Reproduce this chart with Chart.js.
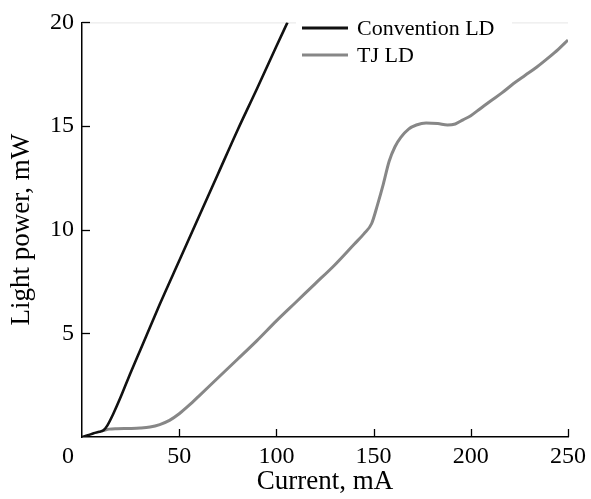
<!DOCTYPE html>
<html>
<head>
<meta charset="utf-8">
<script src="https://cdn.jsdelivr.net/npm/chart.js@4/dist/chart.umd.min.js"></script>
<style>
  html, body { margin: 0; padding: 0; background: #ffffff; }
  #wrap { width: 591px; height: 499px; }
</style>
</head>
<body>
<div id="wrap"><canvas id="c" width="591" height="499"></canvas></div>
<script>
// ---- data ----
const seriesNames = ['Convention LD', 'TJ LD'];
const currentConv = [0, 3, 6, 9, 11, 13, 16, 20, 25, 30, 40, 50, 60, 70, 80, 90, 100, 105.7];
const powerConv   = [0, 0.08, 0.18, 0.25, 0.32, 0.55, 1.1, 1.95, 3.1, 4.2, 6.4, 8.5, 10.6, 12.7, 14.8, 16.8, 18.85, 20.0];
const currentTJ = [11, 14, 18, 25, 30, 35, 40, 45, 50, 55, 60, 70, 80, 90, 100, 110, 120, 130, 140, 145, 149, 152, 155, 158, 161, 164, 168, 172, 177, 183, 188, 192, 196, 200, 205, 210, 216, 222, 228, 234, 240, 245, 250];
const powerTJ   = [0.32, 0.38, 0.4, 0.41, 0.43, 0.48, 0.6, 0.8, 1.12, 1.52, 1.96, 2.86, 3.75, 4.65, 5.6, 6.5, 7.4, 8.3, 9.3, 9.8, 10.3, 11.2, 12.2, 13.3, 14.0, 14.45, 14.85, 15.05, 15.15, 15.12, 15.05, 15.1, 15.3, 15.5, 15.85, 16.2, 16.6, 17.05, 17.45, 17.85, 18.3, 18.7, 19.15];
const xTickValues = [0, 50, 100, 150, 200, 250];
const yTickValues = [0, 5, 10, 15, 20];
const xTitle = 'Current, mA';
const yTitle = 'Light power, mW';

const FONT = "'Liberation Serif', 'Times New Roman', serif";
const colors = ['#111111', '#878787'];

function toPoints(xs, ys) { return xs.map((x, i) => ({ x: x, y: ys[i] })); }

const decor = {
  id: 'decor',
  beforeDatasetsDraw(chart) {
    const ctx = chart.ctx, a = chart.chartArea;
    ctx.save();
    ctx.strokeStyle = '#e6e6e6';
    ctx.lineWidth = 1;
    ctx.beginPath();
    ctx.moveTo(a.left, a.top + 0.5);
    ctx.lineTo(a.right, a.top + 0.5);
    ctx.stroke();
    ctx.restore();
  },
  afterDraw(chart) {
    const ctx = chart.ctx, a = chart.chartArea;
    const xs = chart.scales.x, ys = chart.scales.y;
    ctx.save();
    // inward tick marks
    ctx.strokeStyle = '#000';
    ctx.lineWidth = 1.3;
    const tl = 8;
    xTickValues.forEach(v => {
      if (v === 0) return;
      const px = Math.round(xs.getPixelForValue(v)) + 0.5;
      ctx.beginPath(); ctx.moveTo(px, a.bottom); ctx.lineTo(px, a.bottom - tl); ctx.stroke();
    });
    yTickValues.forEach(v => {
      if (v === 0) return;
      const py = Math.round(ys.getPixelForValue(v)) + 0.5;
      ctx.beginPath(); ctx.moveTo(a.left, py); ctx.lineTo(a.left + tl, py); ctx.stroke();
    });
    // origin label (offset to the lower left, as in the reference)
    ctx.fillStyle = '#000';
    ctx.font = '24px ' + FONT;
    ctx.textAlign = 'center';
    ctx.textBaseline = 'top';
    ctx.fillText('0', xs.getPixelForValue(0) - 14, a.bottom + 8);
    // legend
    ctx.fillStyle = '#ffffff';
    ctx.fillRect(296, 4, 216, 66);
    const lx0 = 302, lx1 = 348, tx = 357;
    const rows = [28, 55];
    seriesNames.forEach((name, i) => {
      ctx.strokeStyle = colors[i];
      ctx.lineWidth = 3;
      ctx.beginPath(); ctx.moveTo(lx0, rows[i]); ctx.lineTo(lx1, rows[i]); ctx.stroke();
      ctx.fillStyle = '#000';
      ctx.font = '22px ' + FONT;
      ctx.textAlign = 'left';
      ctx.textBaseline = 'middle';
      ctx.fillText(name, tx, rows[i] + 1);
    });
    ctx.restore();
  }
};

new Chart(document.getElementById('c'), {
  type: 'line',
  data: {
    datasets: [
      { label: seriesNames[0], data: toPoints(currentConv, powerConv), borderColor: colors[0], borderWidth: 2.6, pointRadius: 0, cubicInterpolationMode: 'monotone', fill: false },
      { label: seriesNames[1], data: toPoints(currentTJ, powerTJ), borderColor: colors[1], borderWidth: 3, pointRadius: 0, cubicInterpolationMode: 'monotone', fill: false }
    ]
  },
  options: {
    responsive: false,
    animation: false,
    devicePixelRatio: 1,
    layout: { padding: { top: 15, right: 19, left: 0, bottom: 0 } },
    plugins: { legend: { display: false }, tooltip: { enabled: false } },
    scales: {
      x: {
        type: 'linear', min: 0, max: 250,
        afterBuildTicks: s => { s.ticks = xTickValues.map(v => ({ value: v })); },
        afterFit: s => { s.height = 62; },
        ticks: { color: '#000', font: { family: FONT, size: 24 }, padding: 5, maxRotation: 0,
                 callback: v => (v === 0 ? '' : String(v)) },
        grid: { display: true, drawOnChartArea: false, drawTicks: false },
        border: { display: true, color: '#000', width: 1.5 },
        title: { display: true, text: xTitle, color: '#000', font: { family: FONT, size: 27 }, padding: { top: 0, bottom: 1 } }
      },
      y: {
        type: 'linear', min: 0, max: 20,
        afterBuildTicks: s => { s.ticks = yTickValues.map(v => ({ value: v })); },
        afterFit: s => { s.width = 82; },
        ticks: { color: '#000', font: { family: FONT, size: 24 }, padding: 8,
                 callback: v => (v === 0 ? '' : String(v)) },
        grid: { display: true, drawOnChartArea: false, drawTicks: false },
        border: { display: true, color: '#000', width: 1.5 },
        title: { display: true, text: yTitle, color: '#000', font: { family: FONT, size: 27 }, padding: { top: 6, bottom: 0 } }
      }
    }
  },
  plugins: [decor]
});
</script>
</body>
</html>
